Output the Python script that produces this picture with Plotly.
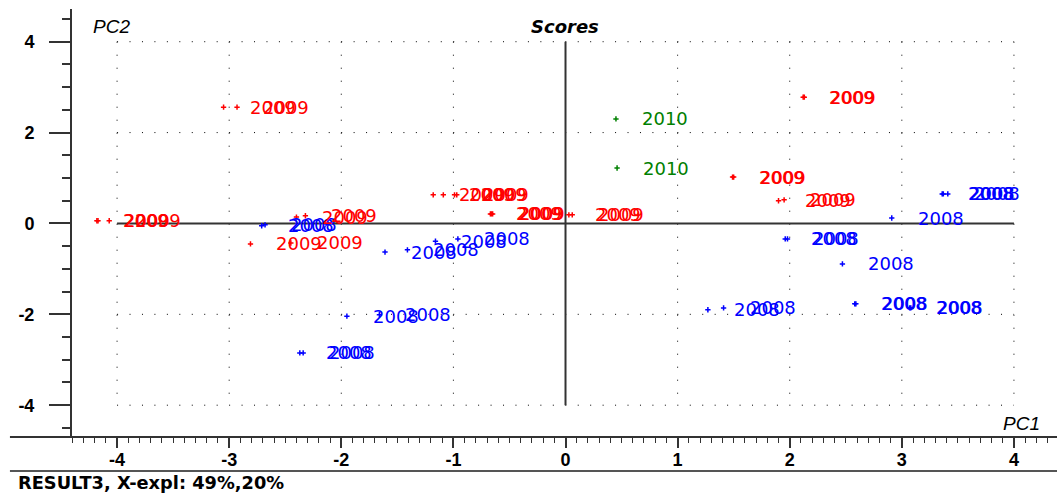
import plotly.graph_objects as go

# Sample scores on the first two principal components, grouped by year
pc1_2008 = [-2.71, -2.68, -1.16, -0.96, -1.61, -1.41, -1.95, -1.66, -2.37, -2.34,
            1.27, 1.41, 2.58, 2.59, 3.07, 3.08, 2.91, 2.47, 1.96, 1.98, 3.36, 3.37, 3.41]
pc2_2008 = [-0.05, -0.03, -0.39, -0.34, -0.63, -0.58, -2.04, -2.01, -2.85, -2.85,
            -1.90, -1.86, -1.77, -1.77, -1.86, -1.86, 0.12, -0.89, -0.34, -0.34, 0.65, 0.65, 0.65]

pc1_2009 = [-3.05, -2.93, 2.12, 2.13, 1.49, 1.50, 1.90, 1.95, 0.03, 0.06,
            -0.67, -0.66, -0.65, -1.18, -1.09, -0.99, -0.97, -4.18, -4.17, -4.07,
            -2.40, -2.32, -2.81, -2.45]
pc2_2009 = [2.56, 2.56, 2.78, 2.78, 1.02, 1.02, 0.50, 0.52, 0.19, 0.19,
            0.21, 0.21, 0.21, 0.63, 0.63, 0.63, 0.63, 0.06, 0.06, 0.06,
            0.14, 0.17, -0.45, -0.43]

pc1_2010 = [0.45, 0.46]
pc2_2010 = [2.30, 1.22]

groups = [
    ("2008", pc1_2008, pc2_2008, "#0000ff"),
    ("2009", pc1_2009, pc2_2009, "#ff0000"),
    ("2010", pc1_2010, pc2_2010, "#008000"),
]

x_tick_vals = [-4, -3, -2, -1, 0, 1, 2, 3, 4]
x_tick_text = ["-4", "-3", "-2", "-1", "0", "1", "2", "3", "4"]
y_tick_vals = [-4, -2, 0, 2, 4]
y_tick_text = ["-4", "-2", "0", "2", "4"]

AXIS = "#333333"
TICK_FONT = dict(family="Liberation Sans", size=18, color="black", weight="bold")
LABEL_FONT = "DejaVu Sans"

fig = go.Figure()
annotations = []
for year, xs, ys, col in groups:
    fig.add_trace(go.Scatter(
        x=xs, y=ys, mode="markers", name=year, showlegend=False,
        marker=dict(symbol="cross-thin", size=3.8, line=dict(width=1.5, color=col), color=col),
        hoverinfo="skip",
    ))
    for xv, yv in zip(xs, ys):
        annotations.append(dict(
            x=xv, y=yv, xref="x", yref="y", text=year, showarrow=False,
            xanchor="left", yanchor="middle", xshift=24,
            font=dict(family=LABEL_FONT, size=18, color=col),
        ))

shapes = []
# dotted reference grid inside the [-4, 4] box
for gy in [-4, -2, 2, 4]:
    shapes.append(dict(type="line", xref="x", yref="y", x0=-4, x1=4, y0=gy, y1=gy,
                       layer="below", line=dict(color="black", width=1, dash="1px,11.45px")))
for gx in [-4, -3, -2, -1, 1, 2, 3, 4]:
    shapes.append(dict(type="line", xref="x", yref="y", x0=gx, x1=gx, y0=4, y1=-4,
                       layer="below", line=dict(color="black", width=1, dash="1px,12px")))
# solid origin cross
shapes.append(dict(type="line", xref="x", yref="y", x0=0, x1=0, y0=-4, y1=4,
                   layer="below", line=dict(color=AXIS, width=2)))
shapes.append(dict(type="line", xref="x", yref="y", x0=-4, x1=4, y0=0, y1=0,
                   layer="below", line=dict(color=AXIS, width=2)))
# horizontal axis line running across the full width, and the lower frame rule
shapes.append(dict(type="line", xref="paper", yref="paper", x0=-0.063, x1=1, y0=0, y1=0,
                   line=dict(color=AXIS, width=2)))
shapes.append(dict(type="line", xref="paper", yref="paper", x0=-0.063, x1=1, y0=-0.0794, y1=-0.0794,
                   line=dict(color="#555555", width=2)))

annotations += [
    dict(x=0.501, y=0.958, xref="paper", yref="paper", text="Scores", showarrow=False,
         xanchor="center", yanchor="middle",
         font=dict(family="DejaVu Sans", size=18, color="black", weight="bold", style="italic")),
    dict(x=0.0193, y=0.958, xref="paper", yref="paper", text="PC2", showarrow=False,
         xanchor="left", yanchor="middle",
         font=dict(family="Liberation Sans", size=19, color="black", style="italic")),
    dict(x=0.943, y=0.0304, xref="paper", yref="paper", text="PC1", showarrow=False,
         xanchor="left", yanchor="middle",
         font=dict(family="Liberation Sans", size=19, color="black", style="italic")),
    dict(x=-0.0568, y=-0.1355, xref="paper", yref="paper", text="RESULT3, X-expl: 49%,20%",
         showarrow=False, xanchor="left", yanchor="bottom",
         font=dict(family="DejaVu Sans", size=17.8, color="black", weight="bold")),
]

fig.update_layout(
    width=1057, height=495, autosize=False,
    margin=dict(l=72, r=0, t=9, b=58),
    plot_bgcolor="white", paper_bgcolor="white",
    shapes=shapes, annotations=annotations,
    xaxis=dict(
        range=[-4.402, 4.384], showgrid=False, zeroline=False, showline=False,
        ticks="outside", ticklen=10, tickwidth=2, tickcolor=AXIS,
        tickmode="array", tickvals=x_tick_vals, ticktext=x_tick_text, tickfont=TICK_FONT,
        ticklabelstandoff=-4,
        minor=dict(ticks="outside", ticklen=5, tickwidth=1, tickcolor=AXIS,
                   tickmode="linear", tick0=0, dtick=0.1, showgrid=False),
    ),
    yaxis=dict(
        range=[-4.70, 4.72], showgrid=False, zeroline=False, showline=True,
        linecolor=AXIS, linewidth=2,
        ticks="outside", ticklen=21, tickwidth=2, tickcolor=AXIS,
        tickmode="array", tickvals=y_tick_vals, ticktext=y_tick_text, tickfont=TICK_FONT,
        ticklabelstandoff=11,
        minor=dict(ticks="outside", ticklen=8, tickwidth=2, tickcolor=AXIS,
                   tickmode="linear", tick0=0, dtick=0.5, showgrid=False),
    ),
)

fig.write_html("out.html")
